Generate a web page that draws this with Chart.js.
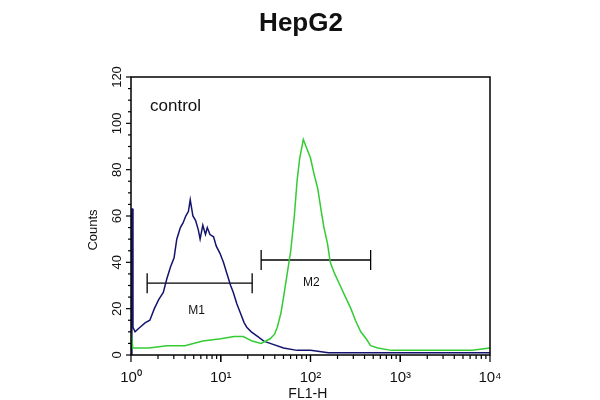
<!DOCTYPE html>
<html><head><meta charset="utf-8">
<script src="https://cdn.jsdelivr.net/npm/chart.js@4"></script>
<style>html,body{margin:0;background:#fff}#c{width:600px;height:400px}</style>
</head><body><div id="c"><canvas id="cv" width="600" height="400"></canvas></div>
<script>
const title = "HepG2";
const sampleLabel = "control";
const xTickLabels = ["10⁰","10¹","10²","10³","10⁴"];
const yTickValues = [0,20,40,60,80,100,120];
// x values are log10(FL1-H)
const blueX = [0.008,0.01,0.018,0.022,0.045,0.1,0.16,0.21,0.26,0.31,0.36,0.4,0.44,0.48,0.51,0.55,0.58,0.61,0.64,0.66,0.69,0.72,0.75,0.77,0.8,0.83,0.85,0.88,0.92,0.95,0.99,1.03,1.07,1.11,1.14,1.18,1.22,1.26,1.29,1.34,1.41,1.48,1.55,1.7,1.85,2.0,2.2,2.4,2.7,3.0,3.5,4.0];
const blueY = [0,63,63,12,10,12,14,15,20,24,27,33,38,42,50,55,57,60,62,67,60,58,54,50,56,52,55,52,51,47,44,40,35,30,27,22,18,14,12,10,8,6,5,3,2,2,1,1,1,1,1,1];
const greenX = [0,0.02,0.2,0.4,0.6,0.8,1.0,1.15,1.25,1.35,1.45,1.55,1.6,1.63,1.67,1.70,1.74,1.78,1.82,1.85,1.88,1.92,1.95,2.0,2.04,2.08,2.12,2.15,2.19,2.22,2.27,2.33,2.39,2.45,2.5,2.56,2.62,2.67,2.75,2.9,3.2,3.5,3.8,4.0];
const greenY = [10,3,3,4,4,6,7,8,8,6,5,7,9,12,18,25,35,45,60,75,85,93,90,85,78,72,62,55,48,40,35,30,25,20,15,10,7,4,3,2,2,2,2,3];
const m1 = {label:"M1", from:0.18, to:1.35, y:31};
const m2 = {label:"M2", from:1.45, to:2.67, y:41};

const pts=(xs,ys)=>xs.map((x,i)=>({x,y:ys[i]}));
const gate=(m)=>[{x:m.from,y:m.y},{x:m.to,y:m.y}];
const extras={id:'extras',
 afterDraw(ch){
  const c=ch.ctx,xs=ch.scales.x,ys=ch.scales.y,a=ch.chartArea;
  c.save();
  c.strokeStyle='#000';c.lineWidth=1.5;
  c.strokeRect(a.left,a.top,a.right-a.left,a.bottom-a.top);
  c.lineWidth=1.3;
  [m1,m2].forEach(m=>{
    const y=ys.getPixelForValue(m.y);
    [m.from,m.to].forEach(v=>{const x=xs.getPixelForValue(v);c.beginPath();c.moveTo(x,y-10);c.lineTo(x,y+10);c.stroke();});
  });
  c.fillStyle='#111';c.font='12px "Liberation Sans"';c.textAlign='center';c.textBaseline='middle';
  c.fillText(m1.label,xs.getPixelForValue(0.73),ys.getPixelForValue(19));
  c.fillText(m2.label,xs.getPixelForValue(2.01),ys.getPixelForValue(31));
  c.font='17px "Liberation Sans"';c.textAlign='left';
  c.fillText(sampleLabel,150,106);
  c.font='bold 26px "Liberation Sans"';c.textAlign='center';
  c.fillText(title,301,24);
  c.lineWidth=1.2;
  for(let v=0;v<=120;v+=5){const y=ys.getPixelForValue(v);c.beginPath();c.moveTo(a.left-(v%20==0?5:3),y);c.lineTo(a.left,y);c.stroke();}
  c.font='13px "Liberation Sans"';
  yTickValues.forEach(v=>{const y=ys.getPixelForValue(v);c.save();c.translate(a.left-14,y);c.rotate(-Math.PI/2);c.fillText(String(v),0,0);c.restore();});
  c.save();c.translate(93,230);c.rotate(-Math.PI/2);c.font='13px "Liberation Sans"';c.fillText('Counts',0,0);c.restore();
  for(let d=0;d<4;d++)for(let k=1;k<=10;k++){const x=xs.getPixelForValue(d+Math.log10(k));const L=(k==1||k==10)?7:4;c.beginPath();c.moveTo(x,a.bottom);c.lineTo(x,a.bottom+L);c.stroke();}
  c.font='15px "Liberation Sans"';
  xTickLabels.forEach((t,i)=>{c.fillText(t,xs.getPixelForValue(i),a.bottom+23);});
  c.font='14px "Liberation Sans"';c.fillText('FL1-H',xs.getPixelForValue(1.97),394);
  c.restore();
 }};
new Chart(document.getElementById('cv'),{
 type:'line',
 data:{datasets:[
  {data:pts(greenX,greenY),borderColor:'#33cc33',borderWidth:1.5,pointRadius:0,tension:0},
  {data:pts(blueX,blueY),borderColor:'#14146e',borderWidth:1.5,pointRadius:0,tension:0},
  {data:gate(m1),borderColor:'#000',borderWidth:1.3,pointRadius:0},
  {data:gate(m2),borderColor:'#000',borderWidth:1.3,pointRadius:0}
 ]},
 options:{responsive:false,animation:false,
  layout:{padding:{left:131,right:110,top:77,bottom:45}},
  plugins:{legend:{display:false},tooltip:{enabled:false}},
  scales:{x:{type:'linear',min:0,max:4,display:false},y:{min:0,max:120,display:false}}},
 plugins:[extras]});
</script></body></html>
